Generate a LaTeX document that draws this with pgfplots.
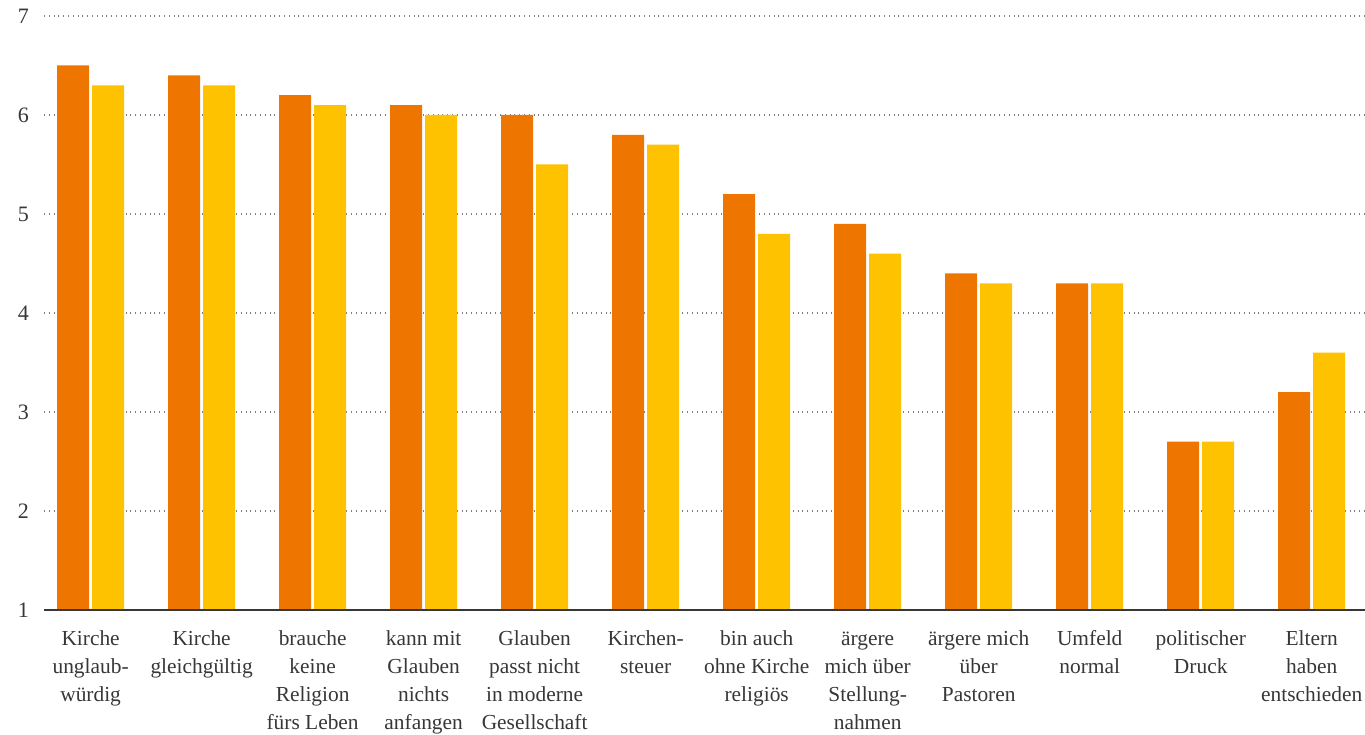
\documentclass[border=0pt]{standalone}
\usepackage{fontspec}
\setmainfont{Liberation Serif}
\usepackage{pgfplots}
\pgfplotsset{compat=1.18}
\definecolor{dorange}{RGB}{238,117,0}
\definecolor{dyellow}{RGB}{255,194,0}
\definecolor{txt}{RGB}{55,55,55}
\begin{document}
\begin{tikzpicture}
\path[use as bounding box] (0,0) rectangle (682.5pt,367pt);
\begin{axis}[
  at={(22pt,62pt)}, anchor=south west,
  scale only axis, width=660.5pt, height=297pt,
  xmin=-0.42, xmax=11.48, ymin=1, ymax=7,
  ybar=1.5pt, bar width=16pt,
  axis line style={draw=none},
  xtick=data,
  xticklabels={{\strut Kirche\\unglaub-\\würdig},{\strut Kirche\\gleichgültig},{\strut brauche\\keine\\Religion\\fürs Leben},{\strut kann mit\\Glauben\\nichts\\anfangen},{\strut Glauben\\passt nicht\\in moderne\\Gesellschaft},{\strut Kirchen-\\steuer},{\strut bin auch\\ohne Kirche\\religiös},{\strut ärgere\\mich über\\Stellung-\\nahmen},{\strut ärgere mich\\über\\Pastoren},{\strut Umfeld\\normal},{\strut politischer\\Druck},{\strut Eltern\\haben\\entschieden}},
  xticklabel style={align=center, anchor=north, yshift=-4.2pt, font=\fontsize{10.7}{14}\selectfont, text=txt},
  ytick={1,...,7},
  yticklabel style={font=\fontsize{11}{14}\selectfont, text=txt, xshift=-4pt},
  /pgf/number format/assume math mode=true,
  major tick length=0pt,
  ymajorgrids, grid style={dotted, gray, line width=1pt},
  extra y ticks={1}, extra y tick labels={},
  extra y tick style={grid style={solid, draw=txt, line width=1.1pt}},
  axis on top=false,
  clip=true,
]
\addplot[fill=dorange, draw=none] coordinates {(0,6.5) (1,6.4) (2,6.2) (3,6.1) (4,6.0) (5,5.8) (6,5.2) (7,4.9) (8,4.4) (9,4.3) (10,2.7) (11,3.2)};
\addplot[fill=dyellow, draw=none] coordinates {(0,6.3) (1,6.3) (2,6.1) (3,6.0) (4,5.5) (5,5.7) (6,4.8) (7,4.6) (8,4.3) (9,4.3) (10,2.7) (11,3.6)};
\draw[txt, line width=1.1pt] (axis cs:-0.42,1) -- (axis cs:11.48,1);
\end{axis}
\end{tikzpicture}
\end{document}
